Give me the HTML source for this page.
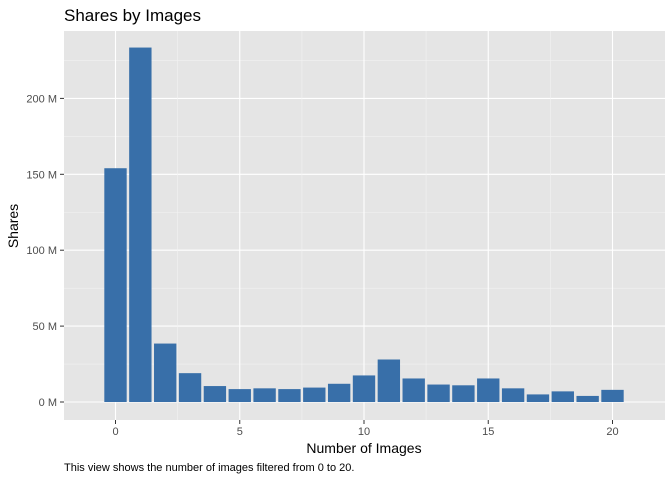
<!DOCTYPE html>
<html><head><meta charset="utf-8"><style>
body{margin:0;background:#fff;font-family:"Liberation Sans",sans-serif;}
svg text{font-family:"Liberation Sans",sans-serif;}
</style></head><body>
<svg id="chart" width="672" height="480">
<text x="64" y="21" font-size="17" fill="#000">Shares by Images</text>
<rect x="64" y="31" width="601" height="389" fill="#e5e5e5"/>
<g id="grid"></g><g id="bars"></g><g id="axes"></g>
<text x="364" y="453" font-size="14" text-anchor="middle">Number of Images</text>
<text transform="translate(18,226) rotate(-90)" font-size="14" text-anchor="middle">Shares</text>
<text x="64" y="471" font-size="11">This view shows the number of images filtered from 0 to 20.</text>
</svg>
<script>
var categories=[0,1,2,3,4,5,6,7,8,9,10,11,12,13,14,15,16,17,18,19,20];
var shares=[154,233.5,38.5,19,10.5,8.5,9,8.5,9.5,12,17.5,28,15.5,11.5,11,15.5,9,5,7,4,8];
var yTicks=[0,50,100,150,200];
var xTicks=[0,5,10,15,20];
var NS="http://www.w3.org/2000/svg";
function xs(v){return 115.5+v*24.85;}
function ys(v){return 402-v*1.518;}
var g=document.getElementById('grid'),b=document.getElementById('bars'),a=document.getElementById('axes');
function mk(p,t,at){var e=document.createElementNS(NS,t);for(var k in at)e.setAttribute(k,at[k]);p.appendChild(e);return e;}
for(var i=0;i<yTicks.length;i++){
 var y=ys(yTicks[i]);
 var l=mk(g,'line',{x1:64,x2:665,y1:y,y2:y,stroke:'#fff','stroke-width':1.1});
 
 
 var ym=ys(yTicks[i]+25);
 if(ym>31){var m=mk(g,'line',{x1:64,x2:665,y1:ym,y2:ym,stroke:'#f2f2f2','stroke-width':0.6});
 
 }
 mk(a,'line',{x1:60,x2:64,y1:y,y2:y,stroke:'#333'});
 var t=mk(a,'text',{x:57,y:y+4,'font-size':11,fill:'#4d4d4d','text-anchor':'end'});t.textContent=yTicks[i]+' M';
 
 
}
for(var i=0;i<xTicks.length;i++){
 var x=xs(xTicks[i]);
 var l=mk(g,'line',{x1:x,x2:x,y1:31,y2:420,stroke:'#fff','stroke-width':1.1});
 
 
 var xm=xs(xTicks[i]+2.5);
 if(xm<665){var m=mk(g,'line',{x1:xm,x2:xm,y1:31,y2:420,stroke:'#f2f2f2','stroke-width':0.6});
 
 }
 var xm2=xs(xTicks[i]-2.5);
 if(i===0&&xm2>64){var m2=mk(g,'line',{x1:xm2,x2:xm2,y1:31,y2:420,stroke:'#f2f2f2','stroke-width':0.6});
 
 }
 mk(a,'line',{x1:x,x2:x,y1:420,y2:424,stroke:'#333'});
 var t=mk(a,'text',{x:x,y:435,'font-size':11,fill:'#4d4d4d','text-anchor':'middle'});t.textContent=xTicks[i];
 
 
}
var bw=24.85*0.9;
for(var i=0;i<categories.length;i++){
 var x=xs(categories[i])-bw/2,y=ys(shares[i]);
 var r=mk(b,'rect',{x:x,y:y,width:bw,height:ys(0)-y,fill:'#386fa9'});
 
 
}
</script>
</body></html>
